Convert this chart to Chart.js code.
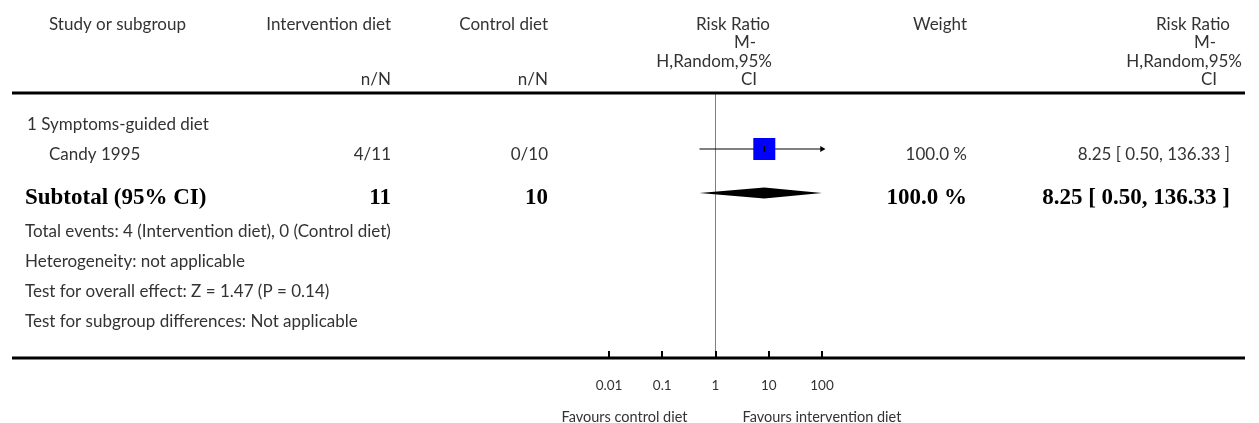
<!DOCTYPE html>
<html>
<head>
<meta charset="utf-8">
<title>Forest plot</title>
<script src="https://cdn.jsdelivr.net/npm/chart.js@4.4.0/dist/chart.umd.min.js"></script>
<style>
  html, body { margin: 0; padding: 0; background: #fff; }
  #wrap { width: 1259px; height: 423px; }
</style>
</head>
<body>
<div id="wrap"><canvas id="forest" width="1259" height="423"></canvas></div>
<script>
// ---- data ----
const subgroupTitle = '1 Symptoms-guided diet';
const studies = ['Candy 1995'];
const interventionEvents = [4];
const interventionTotals = [11];
const controlEvents = [0];
const controlTotals = [10];
const riskRatios = [8.25];
const ciLower = [0.50];
const ciUpper = [136.33];
const weights = [100.0];

const subtotalLabel = 'Subtotal (95% CI)';
const subtotalTotals = [11, 10];      // intervention, control
const subtotalRR = [8.25, 0.50, 136.33]; // estimate, lower, upper
const subtotalWeight = [100.0];

const footnotes = [
  'Total events: 4 (Intervention diet), 0 (Control diet)',
  'Heterogeneity: not applicable',
  'Test for overall effect: Z = 1.47 (P = 0.14)',
  'Test for subgroup differences: Not applicable'
];

const xTickValues = [0.01, 0.1, 1, 10, 100];
const xTickLabels = ['0.01', '0.1', '1', '10', '100'];
const favoursLabels = ['Favours control diet', 'Favours intervention diet'];

// ---- layout (row units are 30px, 0 = rule under the header) ----
const X_MIN = 0.01, X_MAX = 100;
const Y_MAX = 265 / 30;
const ROW = { subgroup: 0.85, study: 1.867, subtotal: 3.333, notes: 4.43 };
const BASE_OFF = 11; // text baseline below the mark centre
const COL = { left: 25, subgroup: 27, study: 49, interv: 391, control: 548, rrMid: 770, weight: 967, rr: 1230 };
const SANS = '"Lato", "Open Sans", sans-serif';
const SERIF = '"Liberation Serif", "DejaVu Serif", serif';

const fmt2 = v => v.toFixed(2);
const ciText = (e, l, u) => `${fmt2(e)} [ ${fmt2(l)}, ${fmt2(u)} ]`;

const tablePlugin = {
  id: 'tablePlugin',
  afterDatasetsDraw(chart) {
    const { ctx, scales: { x, y } } = chart;
    // summary diamond
    const yy = y.getPixelForValue(ROW.subtotal);
    const xl = x.getPixelForValue(Math.max(subtotalRR[1], X_MIN));
    const xm = x.getPixelForValue(subtotalRR[0]);
    const xr = x.getPixelForValue(Math.min(subtotalRR[2], X_MAX));
    ctx.save();
    ctx.fillStyle = '#000';
    ctx.beginPath();
    ctx.moveTo(xl, yy);
    ctx.lineTo(xm, yy - 5.5);
    ctx.lineTo(xr, yy);
    ctx.lineTo(xm, yy + 5.5);
    ctx.closePath();
    ctx.fill();
    ctx.restore();
  },
  afterDraw(chart) {
    const { ctx, chartArea, scales: { x, y } } = chart;
    const top = chartArea.top, bottom = chartArea.bottom;
    const base = r => y.getPixelForValue(r) + BASE_OFF;
    ctx.save();

    // rules
    ctx.fillStyle = '#000';
    ctx.fillRect(12, top - 1.5, 1245 - 12, 3);
    ctx.fillRect(12, bottom - 1.5, 1245 - 12, 3);
    // tick marks on the axis
    xTickValues.forEach(v => {
      const px = Math.round(x.getPixelForValue(v));
      ctx.fillRect(px - 1, bottom - 7, 2, 7);
    });

    const put = (s, px, py, align, font) => {
      ctx.font = font;
      ctx.textAlign = align;
      ctx.textBaseline = 'alphabetic';
      ctx.fillText(s, px, py);
    };
    const fs = '17px ' + SANS;
    ctx.fillStyle = '#333';

    // header
    put('Study or subgroup', COL.study, top - 63, 'left', fs);
    put('Intervention diet', COL.interv, top - 63, 'right', fs);
    put('n/N', COL.interv, top - 8, 'right', fs);
    put('Control diet', COL.control, top - 63, 'right', fs);
    put('n/N', COL.control, top - 8, 'right', fs);
    put('Weight', COL.weight, top - 63, 'right', fs);
    const rrHead = [['Risk Ratio', 0, -63], ['M-', -14, -45], ['H,Random,95%', 2, -26], ['CI', -13, -8]];
    rrHead.forEach(([s, dx, dy]) => {
      put(s, COL.rrMid + dx, top + dy, 'right', fs);
      put(s, COL.rr + dx + (s === 'H,Random,95%' ? 10 : 0), top + dy, 'right', fs);
    });

    // subgroup and study rows
    put(subgroupTitle, COL.subgroup, base(ROW.subgroup), 'left', fs);
    studies.forEach((s, i) => {
      const b = base(ROW.study + i);
      put(s, COL.study, b, 'left', fs);
      put(`${interventionEvents[i]}/${interventionTotals[i]}`, COL.interv, b, 'right', fs);
      put(`${controlEvents[i]}/${controlTotals[i]}`, COL.control, b, 'right', fs);
      put(`${weights[i].toFixed(1)} %`, COL.weight, b, 'right', fs);
      put(ciText(riskRatios[i], ciLower[i], ciUpper[i]), COL.rr, b, 'right', fs);
    });

    // subtotal
    ctx.fillStyle = '#000';
    const fb = 'bold 23px ' + SERIF;
    const bs = base(ROW.subtotal);
    put(subtotalLabel, COL.left, bs, 'left', fb);
    put(String(subtotalTotals[0]), COL.interv, bs, 'right', fb);
    put(String(subtotalTotals[1]), COL.control, bs, 'right', fb);
    put(`${subtotalWeight[0].toFixed(1)} %`, COL.weight, bs, 'right', fb);
    put(ciText(subtotalRR[0], subtotalRR[1], subtotalRR[2]), COL.rr, bs, 'right', fb);

    // footnotes
    ctx.fillStyle = '#333';
    footnotes.forEach((s, i) => put(s, COL.left, base(ROW.notes + i), 'left', fs));

    // favours labels
    const ff = '14.5px ' + SANS;
    const x1 = x.getPixelForValue(1);
    put(favoursLabels[0], x1 - 28, bottom + 64, 'right', ff);
    put(favoursLabels[1], x1 + 27, bottom + 64, 'left', ff);
    ctx.restore();
  }
};

function drawChart() {
  new Chart(document.getElementById('forest'), {
    data: {
      datasets: [
        {
          type: 'scatter',
          label: 'Point estimate',
          data: studies.map((s, i) => ({ x: riskRatios[i], y: ROW.study + i })),
          pointStyle: 'line',
          pointRotation: 90,
          pointRadius: 3,
          pointBorderColor: '#000',
          pointBorderWidth: 1.5,
          clip: false
        },
        {
          type: 'scatter',
          label: 'Weight box',
          data: studies.map((s, i) => ({ x: riskRatios[i], y: ROW.study + i })),
          pointStyle: 'rect',
          pointRadius: studies.map((s, i) => 22 * Math.sqrt(weights[i] / 100) / Math.SQRT2),
          pointBackgroundColor: '#0000ff',
          pointBorderWidth: 0,
          clip: false
        },
        {
          type: 'line',
          label: 'Confidence interval',
          data: [
            { x: Math.max(ciLower[0], X_MIN), y: ROW.study },
            { x: Math.min(ciUpper[0], X_MAX), y: ROW.study }
          ],
          borderColor: '#000',
          borderWidth: 1,
          pointStyle: 'triangle',
          pointRotation: 90,
          pointRadius: [0, ciUpper[0] > X_MAX ? 3.5 : 0],
          pointBackgroundColor: '#000',
          pointBorderWidth: 0,
          clip: false
        }
      ]
    },
    options: {
      responsive: false,
      devicePixelRatio: 1,
      animation: false,
      events: [],
      layout: { padding: { left: 609, right: 437, top: 93, bottom: 0 } },
      plugins: { legend: { display: false }, tooltip: { enabled: false } },
      scales: {
        x: {
          type: 'logarithmic',
          position: 'bottom',
          min: X_MIN,
          max: X_MAX,
          afterBuildTicks: s => { s.ticks = xTickValues.map(v => ({ value: v })); },
          afterFit: s => { s.height = 65; },
          ticks: {
            callback: (v, i) => xTickLabels[i],
            autoSkip: false,
            maxRotation: 0,
            padding: 20,
            color: '#333',
            font: { family: SANS, size: 13.5 }
          },
          grid: {
            drawTicks: false,
            lineWidth: 1,
            color: c => (c.tick && c.tick.value === 1 ? '#808080' : 'rgba(0,0,0,0)')
          },
          border: { display: false }
        },
        y: {
          type: 'linear',
          display: false,
          reverse: true,
          min: 0,
          max: Y_MAX
        }
      }
    },
    plugins: [tablePlugin]
  });
}

Promise.all([
  document.fonts.load('17px Lato'),
  document.fonts.load('bold 23px "Liberation Serif"')
]).then(drawChart, drawChart);
</script>
</body>
</html>
